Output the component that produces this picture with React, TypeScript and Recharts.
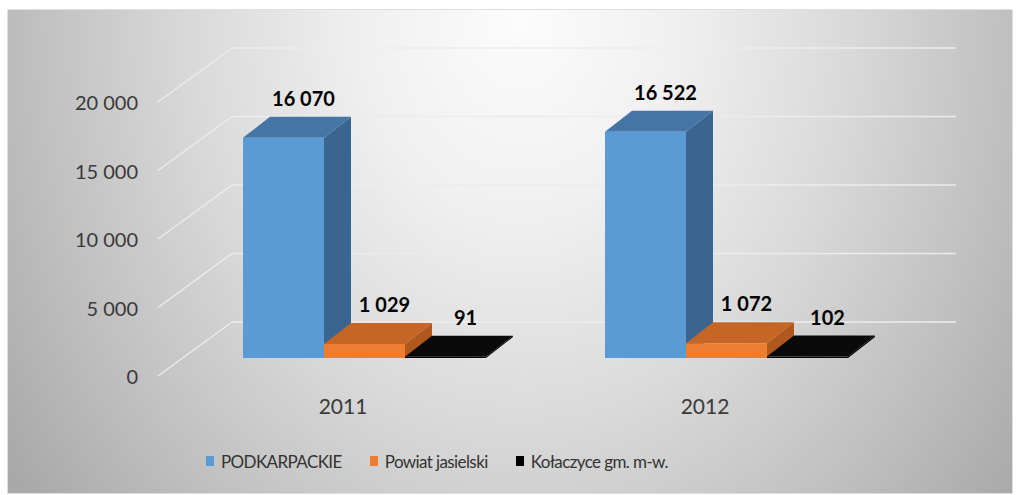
import React from 'react';
import { BarChart, Bar, XAxis, YAxis, CartesianGrid, Legend, LabelList } from 'recharts';

const categories = ['2011', '2012'];
const podkarpackie = [16070, 16522];
const powiatJasielski = [1029, 1072];
const kolaczyce = [91, 102];
const yTicks = [0, 5000, 10000, 15000, 20000];
const seriesNames = ['PODKARPACKIE', 'Powiat jasielski', 'Kołaczyce gm. m-w.'];

const data = categories.map((c, i) => ({
  year: c,
  a: podkarpackie[i],
  b: powiatJasielski[i],
  c: kolaczyce[i],
}));

const FONT = 'Lato, "Open Sans", sans-serif';
const DX = 27;
const DY = -21;

const fmt = (v: number) => String(v).replace(/\B(?=(\d{3})+(?!\d))/g, '\u00a0');

const make3D = (front: string, top: string, side: string) => (props: any) => {
  const { x, y, width, height } = props;
  if (x == null || y == null) return <g />;
  const h = Math.max(height, 0.8);
  const yy = y + height - h;
  return (
    <g>
      <polygon
        points={`${x + width},${yy} ${x + width + DX},${yy + DY} ${x + width + DX},${yy + h + DY} ${x + width},${yy + h}`}
        fill={side}
      />
      <polygon
        points={`${x},${yy} ${x + DX},${yy + DY} ${x + width + DX},${yy + DY} ${x + width},${yy}`}
        fill={top}
      />
      <rect x={x} y={yy} width={width} height={h} fill={front} />
    </g>
  );
};

const renderValue = (props: any) => {
  const { x, y, width, value } = props;
  return (
    <text
      x={x + width / 2 + 20}
      y={y - 40}
      textAnchor="middle"
      dominantBaseline="central"
      fontFamily={FONT}
      fontWeight={700}
      fontSize={20}
      fill="#000"
    >
      {fmt(value)}
    </text>
  );
};

const YTick = (p: any) => (
  <text
    x={p.x - 45}
    y={p.y + 18}
    textAnchor="end"
    dominantBaseline="central"
    fontFamily={FONT}
    fontSize={20}
    fill="#3a3a3a"
  >
    {fmt(p.payload.value)}
  </text>
);

const XTick = (p: any) => (
  <text
    x={p.x - 21}
    y={p.y + 47}
    textAnchor="middle"
    dominantBaseline="central"
    fontFamily={FONT}
    fontSize={21}
    fill="#3a3a3a"
  >
    {p.payload.value}
  </text>
);

const gridLine = (p: any) => {
  const { x1, x2, y1, index } = p;
  const bx = x1 + 49;
  const by = y1 - 36;
  return (
    <g key={`gl-${index}`}>
      <line x1={x1 - 25} y1={y1 + 18} x2={bx} y2={by} stroke="#ececec" strokeWidth={1.5} />
      <line x1={bx} y1={by} x2={x2 + 49} y2={by} stroke="#ececec" strokeWidth={1.5} />
    </g>
  );
};

const renderLegend = (props: any) => {
  const payload = [...(props.payload || [])].sort(
    (p: any, q: any) => seriesNames.indexOf(p.value) - seriesNames.indexOf(q.value)
  );
  return (
    <div
      style={{
        display: 'flex',
        alignItems: 'center',
        paddingLeft: 206,
        fontFamily: FONT,
        fontSize: 17,
        letterSpacing: -0.6,
        color: '#333333',
        height: 24,
      }}
    >
      {payload.map((e: any, i: number) => (
        <div key={i} style={{ display: 'flex', alignItems: 'center', marginRight: 28 }}>
          <span
            style={{ display: 'inline-block', width: 8, height: 10, background: e.color, marginRight: 7 }}
          />
          <span>{e.value}</span>
        </div>
      ))}
    </div>
  );
};

export default function App() {
  return (
    <div style={{ position: 'absolute', left: 0, top: 0, width: 1019, height: 495, background: '#fff' }}>
      <div
        style={{
          position: 'absolute',
          left: 7,
          top: 9,
          width: 1004,
          height: 483,
          border: '1px solid #dedede',
          background:
            'radial-gradient(ellipse 62% 160% at 51% 2%, #fcfcfc 0%, #f0f0f0 25%, #dadada 52%, #c0c0c0 78%, #a9a9a9 100%)',
        }}
      />
      <div style={{ position: 'absolute', left: 0, top: 0 }}>
        <BarChart
          width={1019}
          height={495}
          data={data}
          margin={{ top: 84, right: 112, bottom: 97, left: 0 }}
          barGap={0}
          barSize={81}
        >
          <CartesianGrid vertical={false} horizontal={gridLine} />
          <XAxis
            dataKey="year"
            axisLine={false}
            tickLine={false}
            tickSize={0}
            tickMargin={0}
            height={40}
            tick={<XTick />}
          />
          <YAxis
            domain={[0, 20000]}
            ticks={yTicks}
            axisLine={false}
            tickLine={false}
            tickSize={0}
            tickMargin={0}
            width={183}
            tick={<YTick />}
            interval={0}
          />
          <Legend
            layout="horizontal"
            verticalAlign="middle"
            align="center"
            content={renderLegend}
            wrapperStyle={{ top: 449, left: 0, width: 1019, height: 24 }}
          />
          <Bar
            dataKey="a"
            name={seriesNames[0]}
            fill="#5b9bd5"
            isAnimationActive={false}
            shape={make3D('#5b9bd5', '#4575a5', '#3a6591')}
          >
            <LabelList dataKey="a" content={renderValue} />
          </Bar>
          <Bar
            dataKey="b"
            name={seriesNames[1]}
            fill="#ed7d31"
            isAnimationActive={false}
            shape={make3D('#ed7d31', '#c66626', '#b0581d')}
          >
            <LabelList dataKey="b" content={renderValue} />
          </Bar>
          <Bar
            dataKey="c"
            name={seriesNames[2]}
            fill="#000000"
            isAnimationActive={false}
            shape={make3D('#050505', '#0a0a0a', '#000000')}
          >
            <LabelList dataKey="c" content={renderValue} />
          </Bar>
        </BarChart>
      </div>
    </div>
  );
}
